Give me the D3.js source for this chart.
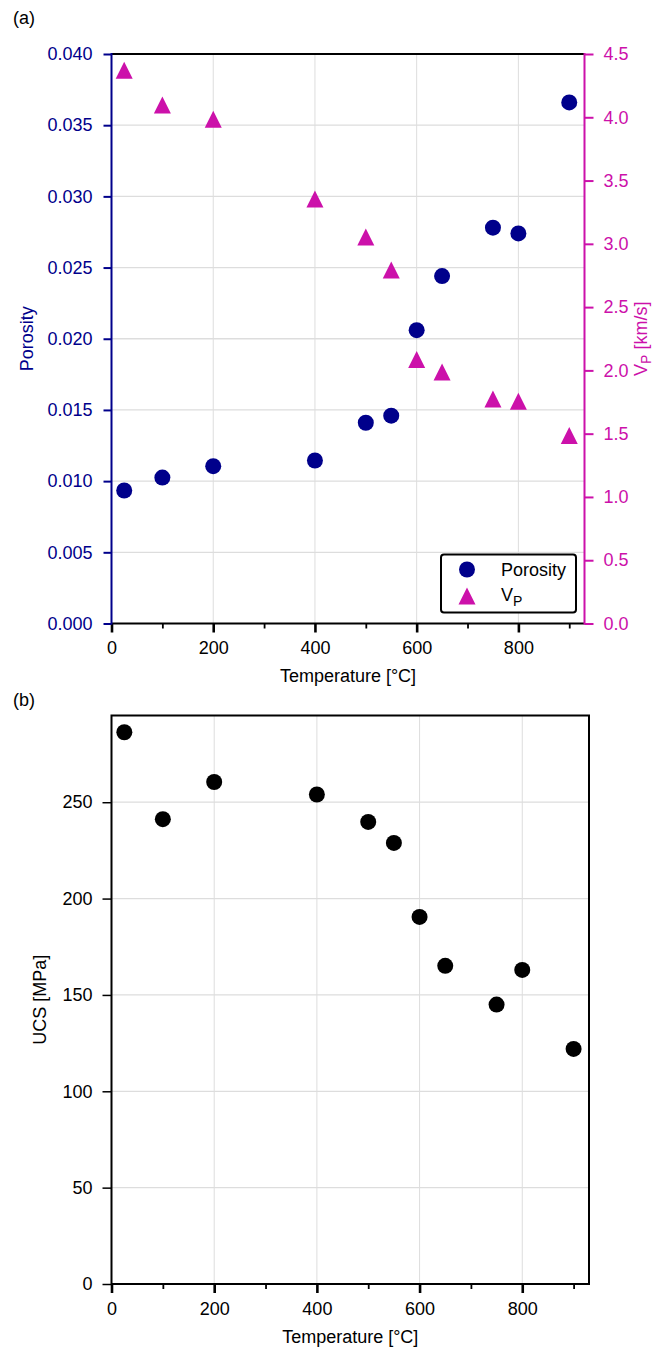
<!DOCTYPE html>
<html><head><meta charset="utf-8">
<script src="https://cdn.jsdelivr.net/npm/d3@7"></script>
<style>body{margin:0;background:#fff}svg{display:block}text{font-family:"Liberation Sans",Arial,sans-serif}</style>
</head><body>
<script>
const temps = [25,100,200,400,500,550,600,650,750,800,900];
const porosity = [0.00934,0.01025,0.01105,0.01145,0.0141,0.0146,0.0206,0.0244,0.0278,0.0274,0.0366];
const vp = [4.372,4.097,3.985,3.355,3.054,2.794,2.086,1.987,1.774,1.757,1.485];
const ucs = [286.3,241.2,260.5,254,239.8,228.9,190.5,165.1,145,163,122];
const xMajor = [0,200,400,600,800];
const xMinor = [100,300,500,700,900];
const porTicks = [0,0.005,0.01,0.015,0.02,0.025,0.03,0.035,0.04];
const vpTicks = [0,0.5,1,1.5,2,2.5,3,3.5,4,4.5];
const ucsTicks = [0,50,100,150,200,250];

const W=657,H=1351,FS=18;
const BLUE="#00008b",MAG="#cc11aa",GRID="#dddddd";
const svg=d3.select("body").append("svg").attr("width",W).attr("height",H);

function tri(s){const h=s/2;return `M0,${-h}L${h},${h}L${-h},${h}Z`;}

// ---------- Panel (a)
const A={l:111.5,r:584.5,t:54,b:623.5};
const xa=d3.scaleLinear().domain([0,930]).range([A.l,A.r]);
const ya=d3.scaleLinear().domain([0,0.04]).range([A.b,A.t]);
const yv=d3.scaleLinear().domain([0,4.5]).range([A.b,A.t]);
const ga=svg.append("g");
ga.selectAll(".gx").data(xMajor.filter(d=>d>0)).join("line").attr("x1",d=>xa(d)).attr("x2",d=>xa(d)).attr("y1",A.t).attr("y2",A.b).attr("stroke",GRID).attr("stroke-width",1);
ga.selectAll(".gy").data(porTicks.filter(d=>d>0&&d<0.04)).join("line").attr("x1",A.l).attr("x2",A.r).attr("y1",d=>ya(d)).attr("y2",d=>ya(d)).attr("stroke",GRID).attr("stroke-width",1.3);

function styleAxis(g,color,tw){
  g.select(".domain").remove();
  g.selectAll(".tick line").attr("stroke",color).attr("stroke-width",tw);
  g.selectAll(".tick text").attr("fill",color).style("font-size",FS+"px").style("font-family",'"Liberation Sans",Arial,sans-serif');
}
const xaxA=ga.append("g").attr("transform",`translate(0,${A.b})`).call(d3.axisBottom(xa).tickValues(xMajor).tickSize(9).tickPadding(9).tickFormat(d3.format("d")));
styleAxis(xaxA,"#000",2.6);
const xmA=ga.append("g").attr("transform",`translate(0,${A.b})`).call(d3.axisBottom(xa).tickValues(xMinor).tickSize(5).tickFormat(""));
styleAxis(xmA,"#000",1.8);
const yaxA=ga.append("g").attr("transform",`translate(${A.l},0)`).call(d3.axisLeft(ya).tickValues(porTicks).tickSize(8).tickPadding(11).tickFormat(d3.format(".3f")));
styleAxis(yaxA,BLUE,2);
const yvax=ga.append("g").attr("transform",`translate(${A.r},0)`).call(d3.axisRight(yv).tickValues(vpTicks).tickSize(9).tickPadding(10).tickFormat(d3.format(".1f")));
styleAxis(yvax,MAG,2);
ga.append("line").attr("x1",A.l).attr("x2",A.r).attr("y1",A.t).attr("y2",A.t).attr("stroke","#000").attr("stroke-width",2);
ga.append("line").attr("x1",A.l).attr("x2",A.r).attr("y1",A.b).attr("y2",A.b).attr("stroke","#000").attr("stroke-width",2);
ga.append("line").attr("x1",A.l).attr("x2",A.l).attr("y1",A.t-1).attr("y2",A.b+1).attr("stroke",BLUE).attr("stroke-width",2);
ga.append("line").attr("x1",A.r).attr("x2",A.r).attr("y1",A.t-1).attr("y2",A.b+1).attr("stroke",MAG).attr("stroke-width",2);
ga.selectAll(".por").data(temps).join("circle").attr("cx",d=>xa(d)).attr("cy",(d,i)=>ya(porosity[i])).attr("r",8).attr("fill",BLUE);
ga.selectAll(".vp").data(temps).join("path").attr("d",tri(17)).attr("transform",(d,i)=>`translate(${xa(d)},${yv(vp[i])})`).attr("fill",MAG);
svg.append("text").attr("x",13).attr("y",24).style("font-size",FS+"px").text("(a)");
svg.append("text").attr("transform",`translate(${(A.l+A.r)/2},682) `).attr("text-anchor","middle").style("font-size",FS+"px").text("Temperature [°C]");
svg.append("text").attr("transform",`translate(33,${(A.t+A.b)/2}) rotate(-90)`).attr("text-anchor","middle").attr("fill",BLUE).style("font-size",FS+"px").text("Porosity");
const vl=svg.append("text").attr("transform",`translate(647,${(A.t+A.b)/2}) rotate(-90)`).attr("text-anchor","middle").attr("fill",MAG).style("font-size",FS+"px");
vl.append("tspan").text("V");
vl.append("tspan").attr("dy",4).style("font-size","14px").text("P");
vl.append("tspan").attr("dy",-4).text(" [km/s]");
const lg=svg.append("g");
lg.append("rect").attr("x",441).attr("y",554.5).attr("width",135).attr("height",58).attr("rx",3).attr("fill","#fff").attr("stroke","#000").attr("stroke-width",2);
lg.append("circle").attr("cx",467).attr("cy",569.5).attr("r",8).attr("fill",BLUE);
lg.append("path").attr("d",tri(17)).attr("transform","translate(467,596)").attr("fill",MAG);
lg.append("text").attr("x",501).attr("y",576).style("font-size",FS+"px").text("Porosity");
const lv=lg.append("text").attr("x",501).attr("y",601).style("font-size",FS+"px");
lv.append("tspan").text("V");
lv.append("tspan").attr("dy",5).style("font-size","14px").text("P");

// ---------- Panel (b)
const B={l:111.5,r:589,t:715.5,b:1284};
const xb=d3.scaleLinear().domain([0,930]).range([B.l,B.r]);
const yb=d3.scaleLinear().domain([0,295]).range([B.b,B.t]);
const gb=svg.append("g");
gb.selectAll(".gx").data(xMajor.filter(d=>d>0)).join("line").attr("x1",d=>xb(d)).attr("x2",d=>xb(d)).attr("y1",B.t).attr("y2",B.b).attr("stroke",GRID).attr("stroke-width",1);
gb.selectAll(".gy").data(ucsTicks.filter(d=>d>0)).join("line").attr("x1",B.l).attr("x2",B.r).attr("y1",d=>yb(d)).attr("y2",d=>yb(d)).attr("stroke",GRID).attr("stroke-width",1.3);
const xaxB=gb.append("g").attr("transform",`translate(0,${B.b})`).call(d3.axisBottom(xb).tickValues(xMajor).tickSize(9).tickPadding(9).tickFormat(d3.format("d")));
styleAxis(xaxB,"#000",2.6);
const xmB=gb.append("g").attr("transform",`translate(0,${B.b})`).call(d3.axisBottom(xb).tickValues(xMinor).tickSize(5).tickFormat(""));
styleAxis(xmB,"#000",1.8);
const yaxB=gb.append("g").attr("transform",`translate(${B.l},0)`).call(d3.axisLeft(yb).tickValues(ucsTicks).tickSize(9).tickPadding(10).tickFormat(d3.format("d")));
styleAxis(yaxB,"#000",1.5);
gb.append("rect").attr("x",B.l).attr("y",B.t).attr("width",B.r-B.l).attr("height",B.b-B.t).attr("fill","none").attr("stroke","#000").attr("stroke-width",2);
gb.selectAll(".ucs").data(temps).join("circle").attr("cx",d=>xb(d)).attr("cy",(d,i)=>yb(ucs[i])).attr("r",8).attr("fill","#000");
svg.append("text").attr("x",13).attr("y",706).style("font-size",FS+"px").text("(b)");
svg.append("text").attr("transform",`translate(${(B.l+B.r)/2},1343)`).attr("text-anchor","middle").style("font-size",FS+"px").text("Temperature [°C]");
svg.append("text").attr("transform",`translate(46,${(B.t+B.b)/2}) rotate(-90)`).attr("text-anchor","middle").style("font-size",FS+"px").text("UCS [MPa]");
</script>
</body></html>
